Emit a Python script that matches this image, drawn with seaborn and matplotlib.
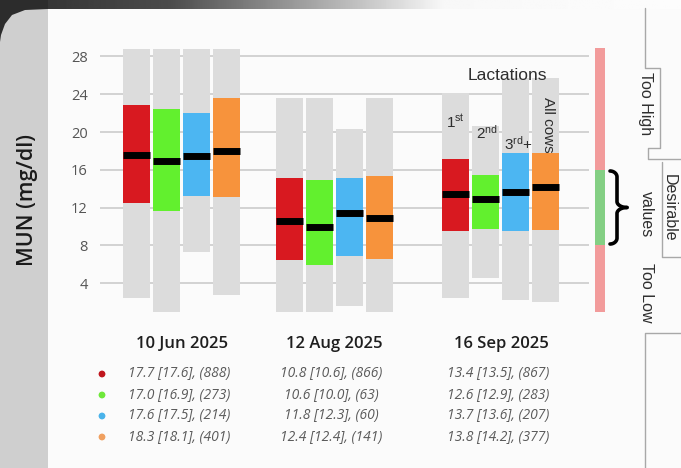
import numpy as np
import matplotlib
matplotlib.use("Agg")
import matplotlib.pyplot as plt
import seaborn as sns

# ---------------- data ----------------
dates = ["10 Jun 2025", "12 Aug 2025", "16 Sep 2025"]
lactations = ["1st", "2nd", "3rd+", "All cows"]
yticks = [4, 8, 12, 16, 20, 24, 28]

range_low = [[2.4, 1.0, 7.3, 2.7], [1.0, 1.0, 1.6, 1.0], [2.4, 4.5, 2.2, 2.0]]
range_high = [[28.8, 28.8, 28.8, 28.8], [23.6, 23.6, 20.3, 23.6], [24.1, 20.6, 25.7, 25.7]]
q_low = [[12.5, 11.6, 13.2, 13.1], [6.5, 5.9, 6.9, 6.6], [9.5, 9.7, 9.5, 9.6]]
q_high = [[22.9, 22.4, 22.0, 23.6], [15.1, 14.9, 15.1, 15.3], [17.1, 15.4, 17.8, 17.8]]
medians = [[17.6, 16.9, 17.5, 18.0], [10.6, 10.0, 11.4, 10.9], [13.4, 12.9, 13.6, 14.2]]

mean_txt = [[17.7, 17.0, 17.6, 18.3], [10.8, 10.6, 11.8, 12.4], [13.4, 12.6, 13.7, 13.8]]
median_txt = [[17.6, 16.9, 17.5, 18.1], [10.6, 10.0, 12.3, 12.4], [13.5, 12.9, 13.6, 14.2]]
counts = [[888, 273, 214, 401], [866, 63, 60, 141], [867, 283, 207, 377]]

desirable_low, desirable_high = 8, 16
scale_low, scale_high = 1.0, 28.9

# ---------------- style ----------------
colors = ["#d81920", "#62f02e", "#4cb6f2", "#f7933c"]
dot_colors = ["#c0161e", "#6ee83a", "#4ab3ea", "#f0a060"]
gray_bar = "#dcdcdc"

sns.set_style("white")
plt.rcParams['font.family'] = ['Liberation Sans', 'DejaVu Sans']
plt.rcParams['mathtext.fontset'] = 'custom'
plt.rcParams['mathtext.rm'] = 'Liberation Sans'
plt.rcParams['mathtext.it'] = 'Liberation Sans:italic'

W, H = 681, 468
fig = plt.figure(figsize=(W / 100, H / 100), dpi=100)
fig.patch.set_facecolor("#cfcfcf")

# background / overlay axes in pixel coordinates
bg = fig.add_axes([0, 0, 1, 1], zorder=0)
bg.set_xlim(0, W)
bg.set_ylim(H, 0)
bg.axis('off')
bg.add_patch(plt.Rectangle((48, 8), W - 48, H - 8, color="#fbfbfb", lw=0, zorder=0))
# top dark photo band
grad_x = np.linspace(0, 1, 400)
stops_x = [0, 0.25, 0.4, 0.55, 0.65, 1]
stops_v = [0.18, 0.30, 0.55, 0.80, 0.97, 0.99]
band = np.interp(grad_x, stops_x, stops_v)[None, :]
bg.imshow(band, extent=(0, W, 9, 0), cmap='gray', vmin=0, vmax=1, aspect='auto', zorder=0)
bg.add_patch(plt.Polygon([(0, 0), (48, 0), (48, 9), (25, 10), (12, 15), (5, 24), (1, 35), (0, 42)],
                         closed=True, color="#2c2c2c", lw=0, zorder=0.5))

# tab outlines on the right
lc = "#a8a8a8"
bg.plot([645, 645, 660, 660, 648, 648, 681], [8, 68, 68, 148, 148, 159, 159], color=lc, lw=1, zorder=1)
bg.plot([662, 662, 681], [162, 257, 257], color=lc, lw=1, zorder=1)
bg.plot([681, 645, 645], [333, 333, 468], color=lc, lw=1, zorder=1)

# ---------------- main axes ----------------
ax = fig.add_axes([100 / W, 1 - 321 / H, 506 / W, 283.5 / H], zorder=2)
ax.set_xlim(100, 606)
ax.set_ylim(0, 30)
ax.patch.set_alpha(0)
for s in ax.spines.values():
    s.set_visible(False)

group_x = [182, 334.5, 501]
offsets = [-45, -15, 15, 45]
bw = 27

ax.hlines(yticks, 100, 589, color="#d2d2d2", lw=1.4, zorder=0)

for g in range(len(dates)):
    for i in range(len(lactations)):
        x = group_x[g] + offsets[i]
        ax.bar(x, range_high[g][i] - range_low[g][i], bottom=range_low[g][i],
               width=bw, color=gray_bar, linewidth=0, edgecolor='none', zorder=1)
        ax.bar(x, q_high[g][i] - q_low[g][i], bottom=q_low[g][i],
               width=bw, color=colors[i], linewidth=0, edgecolor='none', zorder=2)
        ax.hlines(medians[g][i], x - bw / 2, x + bw / 2, color="black", lw=5.0, zorder=3)

# desirable scale bar
for lo, hi, c in [(scale_low, desirable_low, "#f29b9b"),
                  (desirable_low, desirable_high, "#84cf84"),
                  (desirable_high, scale_high, "#f29b9b")]:
    ax.bar(600, hi - lo, bottom=lo, width=10, color=c, linewidth=0, edgecolor='none',
           zorder=1, clip_on=False)

ax.set_yticks(yticks)
ax.set_yticklabels([str(t) for t in yticks], family=['Open Sans', 'DejaVu Sans'])
ax.tick_params(axis='y', length=0, pad=9, labelsize=10.5, labelcolor="#555555")
ax.set_xticks(group_x)
ax.set_xticklabels(dates, family=['Open Sans', 'DejaVu Sans'], fontweight='semibold',
                   fontsize=12, color="#1e1e1e")
ax.tick_params(axis='x', length=0, pad=11)

# ---------------- overlay text ----------------
ov = fig.add_axes([0, 0, 1, 1], zorder=3)

fig.text(27 / W, 1 - 200 / H, "MUN (mg/dl)", rotation=90, ha='center', va='center',
         fontsize=15.5, color="#1a1a1a", family=['Open Sans', 'DejaVu Sans'], fontweight='semibold')

row_y = [374, 395, 416, 437]
sns.scatterplot(x=[102] * 4, y=row_y, hue=lactations, palette=dot_colors, s=24,
                linewidth=0, legend=False, ax=ov)
ov.set_xlim(0, W)
ov.set_ylim(H, 0)
ov.axis('off')
for g in range(len(dates)):
    for i in range(len(lactations)):
        ov.text(group_x[g] - 3, row_y[i],
                f"{mean_txt[g][i]:.1f} [{median_txt[g][i]:.1f}], ({counts[g][i]})",
                ha='center', va='center', fontsize=10, style='italic', color="#5a5a5a",
                family=['Open Sans', 'DejaVu Sans'])

tc = "#2e2e2e"
ov.text(507, 76, "Lactations", ha='center', va='center', fontsize=12.5, color=tc)
ov.text(455, 122, r"1$^{\rm st}$", ha='center', va='center', fontsize=11, color=tc)
ov.text(487, 133, r"2$^{\rm nd}$", ha='center', va='center', fontsize=11, color=tc)
ov.text(518, 144, r"3$^{\rm rd}$+", ha='center', va='center', fontsize=11, color=tc)
ov.text(548, 125, "All cows", rotation=-90, ha='center', va='center', fontsize=11, color=tc)

ov.text(646, 104, "Too High", rotation=-90, ha='center', va='center', fontsize=11.5, color=tc)
ov.text(669, 208, "Desirable", rotation=-90, ha='center', va='center', fontsize=11.5, color=tc)
ov.text(646, 214, "values", rotation=-90, ha='center', va='center', fontsize=11.5, color=tc)
ov.text(646, 293, "Too Low", rotation=-90, ha='center', va='center', fontsize=11.5, color=tc)

# curly brace
t = np.linspace(0, 1, 60)
y0, ym = 171, 207.5
xb, xt = 617, 627
top = np.concatenate([
    np.column_stack([610 + 7 * np.sin(t * np.pi / 2), y0 + 6 * (1 - np.cos(t * np.pi / 2))]),
    np.column_stack([np.full(2, xb), [y0 + 6, ym - 6]]),
    np.column_stack([xb + (xt - xb) * (1 - np.cos(t * np.pi / 2)), ym - 6 + 6 * np.sin(t * np.pi / 2)]),
])
bottom = top.copy()
bottom[:, 1] = 2 * ym - bottom[:, 1]
ov.plot(top[:, 0], top[:, 1], color="black", lw=2.6, solid_capstyle='round')
ov.plot(bottom[:, 0], bottom[:, 1], color="black", lw=2.6, solid_capstyle='round')

fig.savefig("out.png", dpi=100, facecolor=fig.get_facecolor())
